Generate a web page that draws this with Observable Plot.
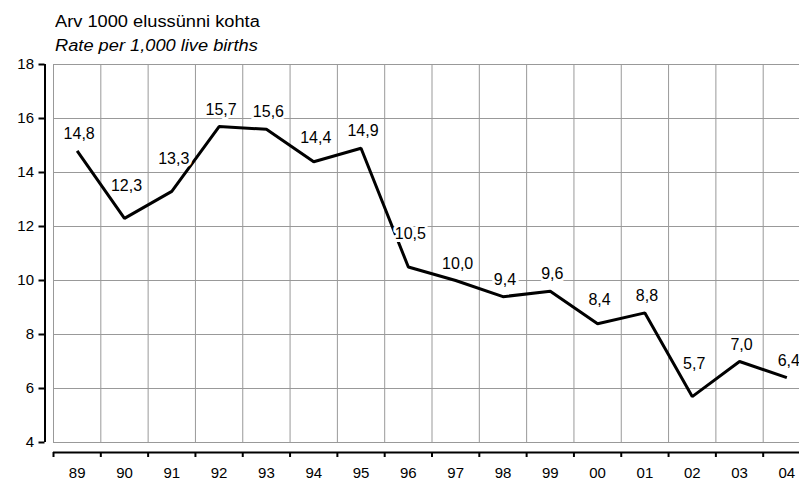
<!DOCTYPE html>
<html>
<head>
<meta charset="utf-8">
<script src="https://cdn.jsdelivr.net/npm/d3@7"></script>
<script src="https://cdn.jsdelivr.net/npm/@observablehq/plot@0.6"></script>
<style>
  html, body { margin: 0; padding: 0; background: #fff; overflow: hidden; }
  #wrap { position: relative; width: 799px; height: 482px; overflow: hidden; }
  .ttl { position: absolute; left: 55px; font-family: "Liberation Sans", Arial, sans-serif; font-size: 16px; line-height: 16px; color: #000; white-space: nowrap; transform: scaleX(1.14); transform-origin: left center; }
  #chart { position: absolute; left: 0; top: 0; width: 810px; }
  #chart svg { max-width: none !important; }
</style>
</head>
<body>
<div id="wrap">
  <div id="chart"></div>
  <div class="ttl" style="top:14px">Arv 1000 elussünni kohta</div>
  <div class="ttl" style="top:38px;font-style:italic">Rate per 1,000 live births</div>
</div>
<script>
const years = ["89","90","91","92","93","94","95","96","97","98","99","00","01","02","03","04"];
const rates = [14.8, 12.3, 13.3, 15.7, 15.6, 14.4, 14.9, 10.5, 10.0, 9.4, 9.6, 8.4, 8.8, 5.7, 7.0, 6.4];
const yTicks = [4, 6, 8, 10, 12, 14, 16, 18];

const data = years.map((year, i) => ({i, year, rate: rates[i]}));
const bounds = d3.range(-0.5, years.length, 1);
const fmt = v => d3.format(".1f")(v).replace(".", ",");

// how far a neighbour rises above the point (label is lifted over the line)
const rise = (d) => Math.max(0,
  d.i > 0 ? rates[d.i - 1] - d.rate : 0,
  d.i < rates.length - 1 ? rates[d.i + 1] - d.rate : 0);
const low = data.filter(d => rise(d) < 0.7);
const mid = data.filter(d => rise(d) >= 0.7 && rise(d) < 2);
const high = data.filter(d => rise(d) >= 2);

const font = "Liberation Sans, Arial, sans-serif";
const labelOpts = (dy) => ({
  x: "i", y: "rate", text: d => fmt(d.rate), dy, dx: 2,
  fontSize: 16, fill: "#000", stroke: "white", strokeWidth: 6, paintOrder: "stroke",
  textAnchor: "middle", lineAnchor: "middle"
});

const chart = Plot.plot({
  width: 810,
  height: 490,
  marginLeft: 53,
  marginRight: 0,
  marginTop: 64,
  marginBottom: 48,
  style: {fontFamily: font, fontSize: "15px", background: "white", overflow: "visible", color: "#000", maxWidth: "none"},
  x: {domain: [-0.5, years.length - 0.5]},
  y: {domain: [4, 18]},
  marks: [
    Plot.ruleY(yTicks, {stroke: "#999", strokeWidth: 1}),
    Plot.ruleX(bounds, {stroke: "#999", strokeWidth: 1}),
    Plot.line(data, {x: "i", y: "rate", stroke: "#000", strokeWidth: 3, strokeLinejoin: "miter", strokeLinecap: "butt"}),
    Plot.text(low, labelOpts(-17)),
    Plot.text(mid, labelOpts(-24)),
    Plot.text(high, labelOpts(-33)),
    // y axis
    Plot.ruleX([-0.5], {y1: 4, y2: 18, dx: -8.5, stroke: "#000", strokeWidth: 2}),
    Plot.axisY({ticks: yTicks, tickSize: 6, tickPadding: 5, dx: -8.5, fontSize: 15, stroke: "#000", strokeWidth: 2, label: null}),
    // x axis: line and ticks at category boundaries, labels at category centres
    Plot.ruleY([4], {x1: -0.5, x2: years.length - 0.5, dy: 10, stroke: "#000", strokeWidth: 2}),
    Plot.axisX({ticks: bounds, tickSize: 5, tickFormat: () => "", dy: 10, strokeWidth: 2, label: null}),
    Plot.text(data, {x: "i", text: "year", frameAnchor: "bottom", dy: 31, lineAnchor: "middle", textAnchor: "middle", fontSize: 15, fill: "#000"})
  ]
});
document.getElementById("chart").appendChild(chart);
d3.select(chart).selectAll('g[aria-label$="tick label"]').style("font-size", "15px").attr("font-size", 15);
</script>
</body>
</html>
